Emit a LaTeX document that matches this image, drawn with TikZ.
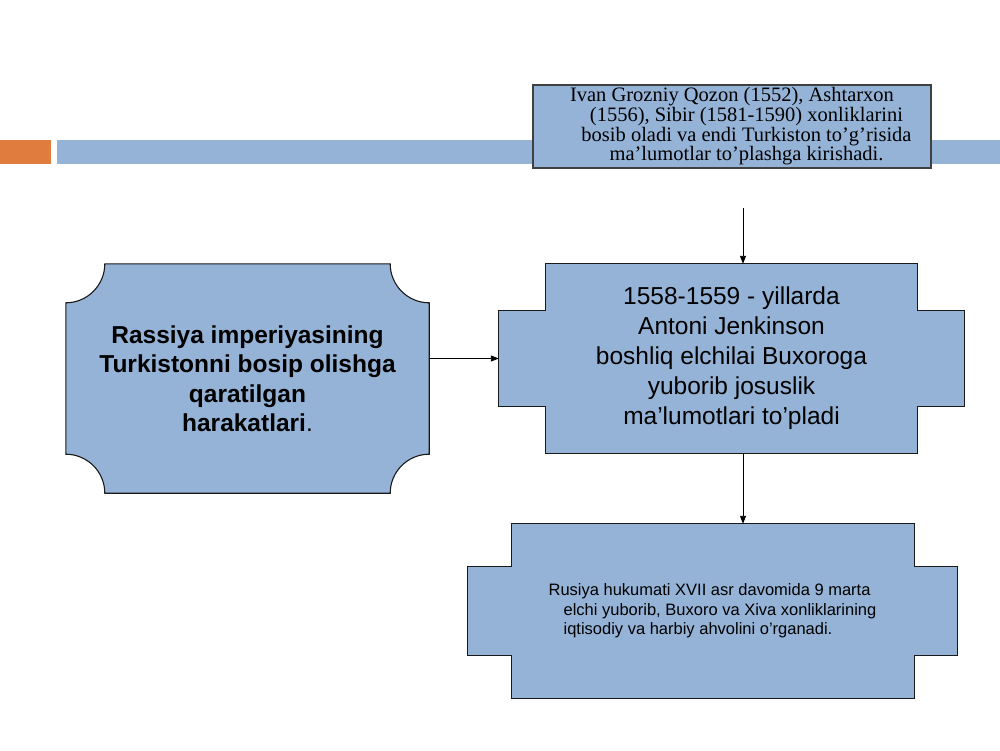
\documentclass[tikz,border=0pt]{standalone}
\usepackage{fontspec}
\setmainfont{Liberation Serif}
\setsansfont{Liberation Sans}
\usepackage{xcolor}
\usepackage{tikz}
\usetikzlibrary{
    arrows.meta,
    positioning,
    calc,
    backgrounds
}
\definecolor{slideblue}{HTML}{95B3D7}
\definecolor{slideorange}{HTML}{E07C3E}

\begin{document}
\begin{tikzpicture}[x=1pt, y=-1pt,
    font=\sffamily,
    box/.style={
        rectangle,
        inner sep=0pt,
        align=center,
        text=black
    },
    outline/.style={
        draw=black!90,
        fill=slideblue,
        line width=1.1pt
    },
    serif/.style={
        font=\rmfamily\fontsize{20.5}{17}\selectfont
    },
    big/.style={
        font=\sffamily\fontsize{24.5}{30}\selectfont
    },
    bigbold/.style={
        font=\sffamily\bfseries\fontsize{24.5}{29.5}\selectfont
    },
    small/.style={
        font=\sffamily\fontsize{16.5}{19.5}\selectfont
    },
    arrow/.style={-{Triangle[length=8pt, width=6pt]}, line width=0.9pt, black}
]

% ===== Page and title bar =====
\begin{scope}[on background layer]
\useasboundingbox[fill=white] (0,0) rectangle (1000,750);
\end{scope}
\fill[slideorange] (0,140) rectangle (51,164);
\fill[slideblue] (57,140) rectangle (1000,164);

% ===== Boxes =====
\node[box, outline, serif, draw=black!75, minimum width=398pt, minimum height=83pt]
    (ivan) at (732,126.5)
    {Ivan Grozniy Qozon (1552), Ashtarxon\\
     \hspace*{29pt}(1556), Sibir (1581-1590) xonliklarini\\
     \hspace*{29pt}bosib oladi va endi Turkiston to’g’risida\\
     \hspace*{29pt}ma’lumotlar to’plashga kirishadi.};

\node[box, bigbold, minimum width=363pt, minimum height=229pt] (rassiya) at (247.5,378.5)
    {Rassiya imperiyasining\\Turkistonni bosip olishga\\qaratilgan\\harakatlari{\mdseries.}};

\node[box, big, minimum width=465pt, minimum height=189pt] (jenkinson) at (731.5,358.5)
    {1558-1559 - yillarda\\Antoni Jenkinson\\boshliq elchilai Buxoroga\\yuborib josuslik\\ma’lumotlari to’pladi};

\node[box, small, align=left, minimum width=489pt, minimum height=174pt] (rusiya) at (712.5,611)
    {Rusiya hukumati XVII asr davomida 9 marta\\
     \hspace*{15pt}elchi yuborib, Buxoro va Xiva xonliklarining\\
     \hspace*{15pt}iqtisodiy va harbiy ahvolini o’rganadi.};

% ===== Outlines behind the texts =====
\begin{scope}[on background layer]
% plaque round the left box
\draw[outline] ($(rassiya.north west)+(39,0)$) -- ($(rassiya.north east)+(-39,0)$)
    .. controls +(0,21.5) and +(-21.5,0) .. ($(rassiya.north east)+(0,39)$)
    -- ($(rassiya.south east)+(0,-39)$)
    .. controls +(-21.5,0) and +(0,-21.5) .. ($(rassiya.south east)+(-39,0)$)
    -- ($(rassiya.south west)+(39,0)$)
    .. controls +(0,-21.5) and +(21.5,0) .. ($(rassiya.south west)+(0,-39)$)
    -- ($(rassiya.north west)+(0,39)$)
    .. controls +(21.5,0) and +(0,21.5) .. ($(rassiya.north west)+(39,0)$) -- cycle;
% cross shapes
\draw[outline] ($(jenkinson.north west)+(47,0)$) -- ($(jenkinson.north east)+(-47,0)$)
    -- ++(0,47) -- ++(47,0) -- ($(jenkinson.south east)+(0,-47)$) -- ++(-47,0)
    -- ++(0,47) -- ($(jenkinson.south west)+(47,0)$) -- ++(0,-47) -- ++(-47,0)
    -- ($(jenkinson.north west)+(0,47)$) -- ++(47,0) -- cycle;
\draw[outline] ($(rusiya.north west)+(44,0)$) -- ($(rusiya.north east)+(-43,0)$)
    -- ++(0,43) -- ++(43,0) -- ($(rusiya.south east)+(0,-43)$) -- ++(-43,0)
    -- ++(0,43) -- ($(rusiya.south west)+(44,0)$) -- ++(0,-43) -- ++(-44,0)
    -- ($(rusiya.north west)+(0,43)$) -- ++(44,0) -- cycle;
\end{scope}

% ===== Connectors =====
\coordinate (feed) at (743,208);
\draw[arrow] (feed) -- (feed |- jenkinson.north);
\draw[arrow] (rassiya.east |- jenkinson.west) -- (jenkinson.west);
\draw[arrow] (feed |- jenkinson.south) -- (feed |- rusiya.north);

\end{tikzpicture}
\end{document}
